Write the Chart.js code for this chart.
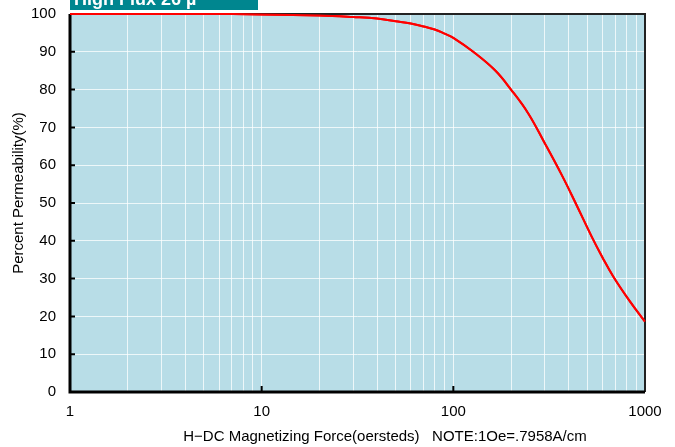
<!DOCTYPE html>
<html>
<head>
<meta charset="utf-8">
<script src="https://cdn.jsdelivr.net/npm/chart.js@4"></script>
<style>
html,body{margin:0;padding:0;background:#fff;}
#wrap{position:relative;width:675px;height:447px;}
</style>
</head>
<body>
<div id="wrap"><canvas id="c" width="675" height="447"></canvas></div>
<script>
const headerText = "High Flux 26 \u00b5";
const xTitle = "H\u2212DC Magnetizing Force(oersteds)   NOTE:1Oe=.7958A/cm";
const yTitle = "Percent Permeability(%)";

const force = [1, 2, 5, 10, 20, 30, 40, 50, 60, 70, 80, 90, 100, 127, 165, 200, 246, 300, 367, 423, 527, 600, 684, 836, 1000];
const permeability = [100, 100, 100, 99.9, 99.6, 99.2, 98.8, 98.1, 97.5, 96.7, 95.9, 94.8, 93.7, 90.0, 85.1, 80.0, 73.7, 65.8, 57.5, 51.2, 41.1, 35.6, 30.5, 23.9, 18.6];

const xGridTicks = [1,2,3,4,5,6,7,8,9,10,20,30,40,50,60,70,80,90,100,200,300,400,500,600,700,800,900,1000];
const xTickLabels = [1, 10, 100, 1000];
const yTickValues = [0,10,20,30,40,50,60,70,80,90,100];
const xMarkTicks = [10, 100];

const FONT = "'Liberation Sans', Arial, sans-serif";

const decorPlugin = {
  id: 'decor',
  beforeDraw(chart) {
    const {ctx, chartArea: a} = chart;
    ctx.save();
    ctx.fillStyle = '#b8dde7';
    ctx.fillRect(a.left, a.top, a.right - a.left, a.bottom - a.top);
    ctx.restore();
  },
  afterDraw(chart) {
    const {ctx, chartArea: a, scales} = chart;
    ctx.save();
    ctx.strokeStyle = '#222';
    ctx.lineWidth = 2;
    ctx.beginPath();
    ctx.moveTo(a.left, a.top); ctx.lineTo(a.right, a.top); ctx.lineTo(a.right, a.bottom);
    ctx.stroke();
    ctx.strokeStyle = '#000';
    ctx.lineWidth = 3;
    ctx.beginPath();
    ctx.moveTo(a.left, a.top); ctx.lineTo(a.left, a.bottom); ctx.lineTo(a.right, a.bottom);
    ctx.stroke();
    ctx.lineWidth = 2;
    ctx.beginPath();
    yTickValues.forEach(v => {
      const y = scales.y.getPixelForValue(v);
      ctx.moveTo(a.left, y); ctx.lineTo(a.left + 5, y);
    });
    xMarkTicks.forEach(v => {
      const x = scales.x.getPixelForValue(v);
      ctx.moveTo(x, a.bottom); ctx.lineTo(x, a.bottom - 6);
    });
    ctx.stroke();
    const meta = chart.getDatasetMeta(0);
    meta.dataset.draw(ctx, {left: a.left - 4, right: a.right + 4, top: a.top - 4, bottom: a.bottom + 4});
    ctx.fillStyle = '#000';
    ctx.font = '15px ' + FONT;
    ctx.textAlign = 'center';
    ctx.textBaseline = 'middle';
    ctx.fillText(xTitle, 385, 437);
    ctx.save();
    ctx.translate(19, 193);
    ctx.rotate(-Math.PI / 2);
    ctx.fillText(yTitle, 0, 0);
    ctx.restore();
    ctx.fillStyle = '#00868f';
    ctx.fillRect(70, 0, 188, 10);
    ctx.fillStyle = '#fff';
    ctx.font = 'bold 18px ' + FONT;
    ctx.textAlign = 'left';
    ctx.textBaseline = 'alphabetic';
    ctx.fillText(headerText, 74, 5);
    ctx.restore();
  }
};

new Chart(document.getElementById('c'), {
  type: 'line',
  data: {
    datasets: [{
      data: force.map((f, i) => ({x: f, y: permeability[i]})),
      borderColor: '#ff0000',
      borderWidth: 2,
      pointRadius: 0,
      tension: 0.4,
      fill: false,
      clip: 4
    }]
  },
  options: {
    responsive: false,
    animation: false,
    devicePixelRatio: 1,
    layout: {padding: {top: 14, right: 30, left: 0, bottom: 0}},
    plugins: {legend: {display: false}, tooltip: {enabled: false}},
    scales: {
      x: {
        type: 'logarithmic',
        min: 1, max: 1000,
        afterBuildTicks(scale) {
          scale.ticks = xGridTicks.map(v => ({value: v}));
        },
        afterFit(scale) { scale.height = 55; scale.paddingLeft = 0; scale.paddingRight = 0; },
        grid: {color: 'rgba(255,255,255,0.75)', lineWidth: 1, drawTicks: false},
        border: {display: false},
        ticks: {
          autoSkip: false,
          maxRotation: 0,
          padding: 11,
          color: '#000',
          font: {family: FONT, size: 15},
          callback: (v) => xTickLabels.includes(v) ? String(v) : ''
        }
      },
      y: {
        type: 'linear',
        min: 0, max: 100,
        afterBuildTicks(scale) {
          scale.ticks = yTickValues.map(v => ({value: v}));
        },
        afterFit(scale) { scale.width = 70; scale.paddingTop = 0; scale.paddingBottom = 0; },
        grid: {color: 'rgba(255,255,255,0.75)', lineWidth: 1, drawTicks: false},
        border: {display: false},
        ticks: {
          padding: 14,
          color: '#000',
          font: {family: FONT, size: 15}
        }
      }
    }
  },
  plugins: [decorPlugin]
});
</script>
</body>
</html>
